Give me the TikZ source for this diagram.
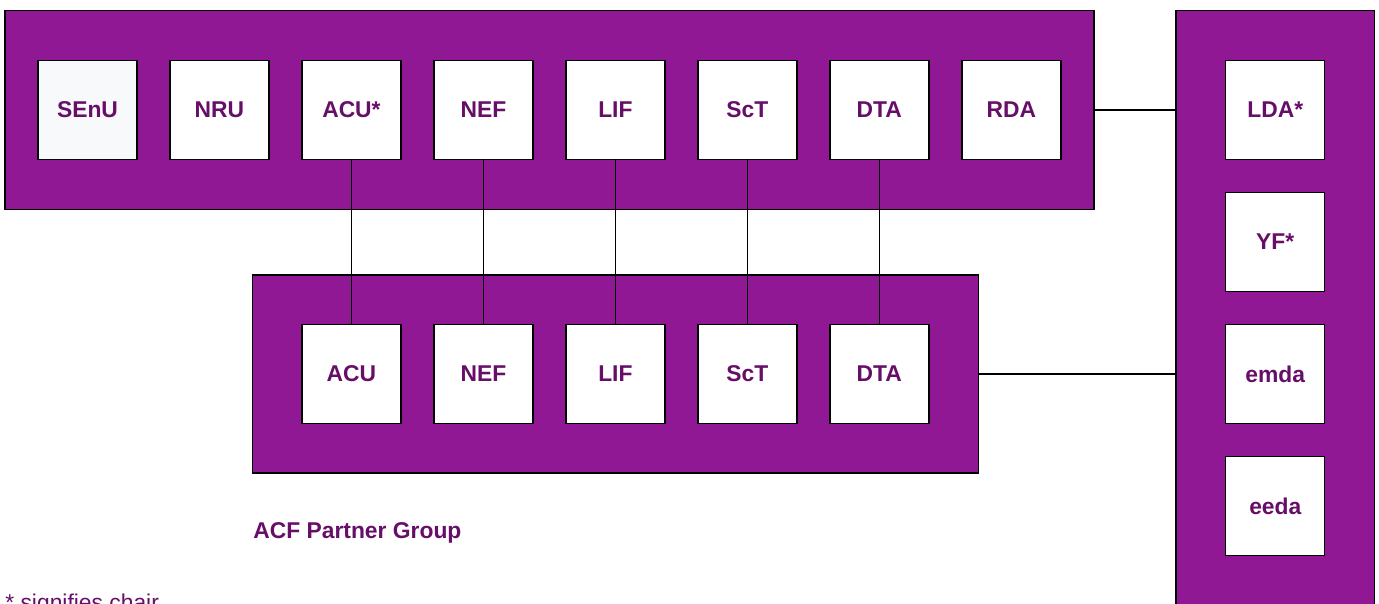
\documentclass[tikz,border=0pt]{standalone}
\usepackage{fontspec}
\setmainfont{Liberation Sans}
\usetikzlibrary{positioning,fit,backgrounds}
\definecolor{acfpurple}{RGB}{145,24,148}
\definecolor{acfink}{RGB}{102,14,104}
\definecolor{ghostwhite}{RGB}{248,249,251}
\tikzset{
  member/.style={
    draw=black,
    fill=white,
    line width=0.8pt,
    minimum size=1.98cm,
    outer sep=0pt,
    inner sep=0pt,
    text=acfink,
    font=\fontsize{13}{16}\selectfont\bfseries
  },
  group/.style={
    draw=black,
    fill=acfpurple,
    line width=0.8pt,
    inner sep=0pt
  },
  link/.style={
    line width=0.8pt,
    black
  },
  note/.style={
    text=acfink,
    inner sep=0pt,
    font=\fontsize{13}{16}\selectfont
  }
}
\begin{document}
\begin{tikzpicture}[x=0.02cm,y=-0.02cm,node distance=0.66cm]
\useasboundingbox (0,0) rectangle (1379,603);
% top row
\node[member,fill=ghostwhite] (senu) at (87.5,110) {SEnU};
\node[member,right=of senu] (nru) {NRU};
\node[member,right=of nru] (acu) {ACU*};
\node[member,right=of acu] (nef) {NEF};
\node[member,right=of nef] (lif) {LIF};
\node[member,right=of lif] (sct) {ScT};
\node[member,right=of sct] (dta) {DTA};
\node[member,right=of dta] (rda) {RDA};
% partner row
\node[member,below=3.3cm of acu] (acup) {ACU};
\node[member,right=of acup] (nefp) {NEF};
\node[member,right=of nefp] (lifp) {LIF};
\node[member,right=of lifp] (sctp) {ScT};
\node[member,right=of sctp] (dtap) {DTA};
% right column
\node[member,right=3.3cm of rda] (lda) {LDA*};
\node[member,below=of lda] (yf) {YF*};
\node[member,below=of yf] (emda) {emda};
\node[member,below=of emda] (eeda) {eeda};
\coordinate (sideend) at (1275,640);
% group panels
\begin{scope}[on background layer]
\node[group,inner xsep=0.66cm,inner ysep=1cm,fit=(senu)(rda)] (top) {};
\node[group,inner sep=0.99cm,fit=(acup)(dtap)] (partner) {};
\node[group,inner sep=1cm,fit=(lda)(eeda)(sideend)] (side) {};
\end{scope}
\draw[link] (top.east) -- (top.east -| side.west);
\draw[link] (partner.east) -- (partner.east -| side.west);
\draw[link] (acu) -- (acup);
\draw[link] (nef) -- (nefp);
\draw[link] (lif) -- (lifp);
\draw[link] (sct) -- (sctp);
\draw[link] (dta) -- (dtap);
\node[note,font=\fontsize{13}{16}\selectfont\bfseries,anchor=base west] (pgroup) at (253,538) {ACF Partner Group};
\node[note,anchor=base west] (chair) at (5,610) {* signifies chair};
\end{tikzpicture}
\end{document}
